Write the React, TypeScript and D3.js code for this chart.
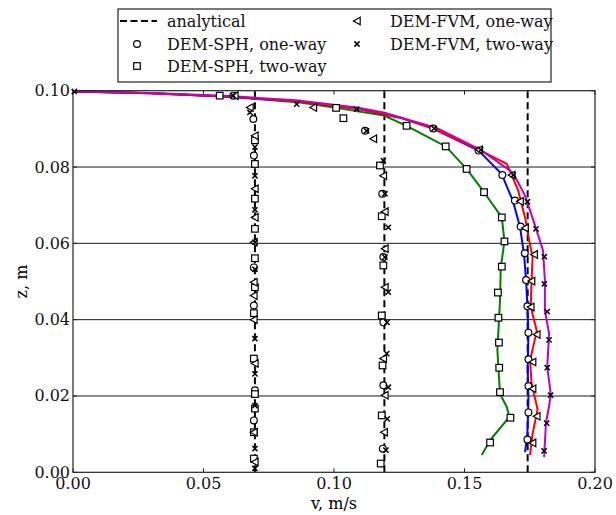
import React, { useEffect, useRef } from "react";
import * as d3 from "d3";

// analytical (plug) velocities, m/s
const analyticalV = [0.0697, 0.1193, 0.1742];

// simulated profiles at the last time level, [v, z]
const sphOneWayLine = [[0, 0.0998], [0.03, 0.0993], [0.06, 0.0984], [0.087, 0.0972], [0.1087, 0.0953], [0.125, 0.093], [0.138, 0.0901], [0.1554, 0.0843], [0.1642, 0.0782], [0.1685, 0.0712], [0.1713, 0.0642], [0.1728, 0.0572], [0.1736, 0.0503], [0.1741, 0.0433], [0.1745, 0.0363], [0.1742, 0.0276], [0.1745, 0.0188], [0.1741, 0.0101], [0.1732, 0.0053]];
const sphTwoWayLine = [[0, 0.0998], [0.03, 0.0993], [0.06, 0.0984], [0.087, 0.0969], [0.1008, 0.0955], [0.1192, 0.0935], [0.1278, 0.0908], [0.1428, 0.0854], [0.1508, 0.0795], [0.1575, 0.0734], [0.1643, 0.0668], [0.1653, 0.0605], [0.1639, 0.0537], [0.1636, 0.045], [0.1626, 0.0319], [0.1636, 0.0206], [0.1662, 0.0171], [0.1672, 0.0145], [0.1598, 0.0084], [0.1566, 0.0045]];
const fvmOneWayLine = [[0, 0.0998], [0.03, 0.0993], [0.06, 0.0984], [0.087, 0.0972], [0.1087, 0.0953], [0.125, 0.093], [0.138, 0.0901], [0.1556, 0.0845], [0.1662, 0.0808], [0.1706, 0.0738], [0.1732, 0.0668], [0.1748, 0.0607], [0.1761, 0.0564], [0.1757, 0.0503], [0.1754, 0.0433], [0.1777, 0.037], [0.1751, 0.0293], [0.1757, 0.0232], [0.178, 0.0165], [0.1761, 0.0102], [0.1751, 0.0045]];
const fvmTwoWayLine = [[0, 0.0999], [0.03, 0.0994], [0.06, 0.0986], [0.087, 0.0974], [0.1087, 0.0956], [0.119, 0.0943], [0.1395, 0.0902], [0.1562, 0.0845], [0.1686, 0.0785], [0.1732, 0.0725], [0.177, 0.0647], [0.1801, 0.0581], [0.1808, 0.0503], [0.1808, 0.0424], [0.1824, 0.0364], [0.1817, 0.0276], [0.1831, 0.0202], [0.1812, 0.0128], [0.1805, 0.004]];

// sampled points (three time levels), [v, z]
const sphOneWayPts = [
  [0.1741, 0.0086], [0.1745, 0.0157], [0.1745, 0.0226], [0.1745, 0.0296], [0.1745, 0.0366], [0.1741, 0.0435], [0.1736, 0.0504], [0.1731, 0.0574], [0.1715, 0.0644], [0.1693, 0.0712], [0.1645, 0.0779], [0.1554, 0.0843], [0.138, 0.0901],
  [0.1187, 0.0062], [0.1189, 0.0228], [0.1189, 0.0393], [0.1189, 0.0564], [0.1185, 0.073], [0.1119, 0.0895],
  [0.0693, 0.0136], [0.0697, 0.0215], [0.0693, 0.0437], [0.0693, 0.0537], [0.0693, 0.083], [0.0691, 0.0926], [0.0614, 0.0987],
];
const sphTwoWayPts = [
  [0.1598, 0.0078], [0.1676, 0.0143], [0.1636, 0.021], [0.1633, 0.0274], [0.1632, 0.034], [0.163, 0.0405], [0.1628, 0.0471], [0.1643, 0.0539], [0.1653, 0.0605], [0.1643, 0.0668], [0.1575, 0.0734], [0.1508, 0.0795], [0.1428, 0.0854], [0.1278, 0.0908], [0.1008, 0.0955],
  [0.1179, 0.0023], [0.1183, 0.0149], [0.1186, 0.028], [0.1183, 0.0411], [0.1189, 0.0542], [0.1183, 0.0671], [0.1176, 0.0804], [0.1036, 0.0928],
  [0.0693, 0.0036], [0.0693, 0.0105], [0.0697, 0.0167], [0.0697, 0.0205], [0.0693, 0.0298], [0.0693, 0.0417], [0.0697, 0.0485], [0.0697, 0.0561], [0.0697, 0.0638], [0.0697, 0.0717], [0.0697, 0.0808], [0.0697, 0.087], [0.0562, 0.0987],
];
const fvmOneWayPts = [
  [0.1761, 0.0077], [0.1777, 0.0147], [0.1761, 0.0219], [0.1761, 0.0289], [0.1777, 0.0361], [0.1754, 0.0433], [0.1757, 0.0501], [0.1767, 0.0571], [0.1732, 0.064], [0.1713, 0.071], [0.1681, 0.0779], [0.1556, 0.0845], [0.0921, 0.0956],
  [0.1192, 0.0105], [0.1195, 0.0202], [0.1189, 0.0298], [0.1195, 0.0485], [0.1195, 0.0586], [0.1195, 0.0683], [0.1189, 0.0777], [0.1151, 0.0874],
  [0.0697, 0.0027], [0.0693, 0.0105], [0.0697, 0.0285], [0.0693, 0.04], [0.0693, 0.0463], [0.0693, 0.0498], [0.0693, 0.0603], [0.0697, 0.0668], [0.0697, 0.0743], [0.0697, 0.0882], [0.0678, 0.0956], [0.062, 0.0987],
];
const fvmTwoWayPts = [
  [0.1805, 0.0056], [0.1815, 0.0129], [0.183, 0.0202], [0.1817, 0.0274], [0.1824, 0.0347], [0.1817, 0.0421], [0.1806, 0.0494], [0.1806, 0.0565], [0.1774, 0.0638], [0.1741, 0.0709], [0.1687, 0.0779], [0.1562, 0.0845], [0.1384, 0.0901], [0.1087, 0.0952], [0.0857, 0.0965],
  [0.1199, 0.0058], [0.1204, 0.014], [0.1208, 0.0223], [0.1202, 0.0311], [0.1203, 0.0393], [0.1208, 0.0472], [0.1195, 0.0564], [0.1208, 0.0642], [0.1195, 0.073], [0.1189, 0.0817], [0.1125, 0.0895],
  [0.0697, 0.001], [0.0697, 0.0062], [0.0697, 0.0175], [0.0697, 0.0258], [0.0697, 0.035], [0.0697, 0.0532], [0.0697, 0.0603], [0.0697, 0.0688], [0.0697, 0.0777], [0.0697, 0.0852], [0.0678, 0.0943], [0.0614, 0.0987], [0.0005, 0.0998],
];

const xTicks = [0, 0.05, 0.1, 0.15, 0.2];
const yTicks = [0, 0.02, 0.04, 0.06, 0.08, 0.1];
const gridZ = [0.02, 0.04, 0.06, 0.08];

const FONT = "'DejaVu Serif', 'Liberation Serif', serif";

function drawMarker(g, kind, x, y) {
  if (kind === "circle") {
    g.append("circle").attr("cx", x).attr("cy", y).attr("r", 3.4)
      .attr("fill", "white").attr("stroke", "black").attr("stroke-width", 1.2);
  } else if (kind === "square") {
    g.append("rect").attr("x", x - 3.3).attr("y", y - 3.3).attr("width", 6.6).attr("height", 6.6)
      .attr("fill", "white").attr("stroke", "black").attr("stroke-width", 1.2);
  } else if (kind === "triangle") {
    g.append("path").attr("d", `M${x - 3.6},${y} L${x + 3.2},${y - 3.8} L${x + 3.2},${y + 3.8} Z`)
      .attr("fill", "white").attr("stroke", "black").attr("stroke-width", 1.2);
  } else {
    g.append("path").attr("d", `M${x - 2.6},${y - 2.6} L${x + 2.6},${y + 2.6} M${x - 2.6},${y + 2.6} L${x + 2.6},${y - 2.6}`)
      .attr("fill", "none").attr("stroke", "black").attr("stroke-width", 1.5);
  }
}

export default function App() {
  const ref = useRef(null);

  useEffect(() => {
    const svg = d3.select(ref.current);
    svg.selectAll("*").remove();

    const left = 73, right = 595, top = 90.7, bottom = 472.3;
    const x = d3.scaleLinear().domain([0, 0.2]).range([left, right]);
    const y = d3.scaleLinear().domain([0, 0.1]).range([bottom, top]);

    svg.append("rect").attr("width", 616).attr("height", 515).attr("fill", "white");

    // horizontal grid
    svg.selectAll(".grid").data(gridZ).join("line")
      .attr("x1", left).attr("x2", right)
      .attr("y1", d => y(d)).attr("y2", d => y(d))
      .attr("stroke", "#1a1a1a").attr("stroke-width", 1);

    // ticks (inward, all sides)
    const tk = svg.append("g").attr("stroke", "#222").attr("stroke-width", 1);
    xTicks.forEach(t => {
      tk.append("line").attr("x1", x(t)).attr("x2", x(t)).attr("y1", bottom).attr("y2", bottom - 4);
      tk.append("line").attr("x1", x(t)).attr("x2", x(t)).attr("y1", top).attr("y2", top + 4);
    });
    yTicks.forEach(t => {
      tk.append("line").attr("x1", left).attr("x2", left + 4).attr("y1", y(t)).attr("y2", y(t));
      tk.append("line").attr("x1", right).attr("x2", right - 4).attr("y1", y(t)).attr("y2", y(t));
    });

    const clip = svg.append("defs").append("clipPath").attr("id", "plotclip");
    clip.append("rect").attr("x", left).attr("y", top - 6).attr("width", right - left).attr("height", bottom - top + 6);

    const plot = svg.append("g").attr("clip-path", "url(#plotclip)");

    // analytical
    plot.selectAll(".ana").data(analyticalV).join("line")
      .attr("x1", d => x(d)).attr("x2", d => x(d))
      .attr("y1", y(0)).attr("y2", y(0.1))
      .attr("stroke", "black").attr("stroke-width", 2).attr("stroke-dasharray", "7,4");

    const line = d3.line().x(d => x(d[0])).y(d => y(d[1])).curve(d3.curveLinear);
    const lines = [
      [sphTwoWayLine, "#008000"],
      [sphOneWayLine, "#0000ff"],
      [fvmOneWayLine, "#ff0000"],
      [fvmTwoWayLine, "#bf00bf"],
    ];
    lines.forEach(([data, color]) => {
      plot.append("path").datum(data).attr("d", line)
        .attr("fill", "none").attr("stroke", color).attr("stroke-width", 2)
        .attr("stroke-linejoin", "round");
    });

    const mk = svg.append("g");
    sphOneWayPts.forEach(d => drawMarker(mk, "circle", x(d[0]), y(d[1])));
    sphTwoWayPts.forEach(d => drawMarker(mk, "square", x(d[0]), y(d[1])));
    fvmOneWayPts.forEach(d => drawMarker(mk, "triangle", x(d[0]), y(d[1])));
    fvmTwoWayPts.forEach(d => drawMarker(mk, "cross", x(d[0]), y(d[1])));

    // frame
    svg.append("rect").attr("x", left).attr("y", top).attr("width", right - left).attr("height", bottom - top)
      .attr("fill", "none").attr("stroke", "#222").attr("stroke-width", 1.2);

    // tick labels
    svg.selectAll(".xl").data(xTicks).join("text")
      .attr("x", d => x(d)).attr("y", 489)
      .attr("text-anchor", "middle").style("font-family", FONT).attr("font-size", 16)
      .attr("fill", "#111").text(d => d3.format(".2f")(d));
    svg.selectAll(".yl").data(yTicks).join("text")
      .attr("x", left - 3).attr("y", d => y(d) + 5.5)
      .attr("text-anchor", "end").style("font-family", FONT).attr("font-size", 16)
      .attr("fill", "#111").text(d => d3.format(".2f")(d));

    // axis labels
    svg.append("text").attr("x", (left + right) / 2).attr("y", 509)
      .attr("text-anchor", "middle").style("font-family", FONT).attr("font-size", 16)
      .text("v, m/s");
    svg.append("text").attr("transform", `translate(27,${(top + bottom) / 2}) rotate(-90)`)
      .attr("text-anchor", "middle").style("font-family", FONT).attr("font-size", 16)
      .text("z, m");

    // legend
    const lg = svg.append("g");
    lg.append("rect").attr("x", 118).attr("y", 9).attr("width", 433).attr("height", 73)
      .attr("fill", "white").attr("stroke", "#222").attr("stroke-width", 1.2);
    const items = [
      { kind: "dash", label: "analytical", cx: 137, tx: 167, cy: 21 },
      { kind: "circle", label: "DEM-SPH, one-way", cx: 137, tx: 167, cy: 44 },
      { kind: "square", label: "DEM-SPH, two-way", cx: 137, tx: 167, cy: 66 },
      { kind: "triangle", label: "DEM-FVM, one-way", cx: 357, tx: 390, cy: 21 },
      { kind: "cross", label: "DEM-FVM, two-way", cx: 357, tx: 390, cy: 44 },
    ];
    items.forEach(it => {
      if (it.kind === "dash") {
        lg.append("line").attr("x1", it.cx - 17).attr("x2", it.cx + 20).attr("y1", it.cy).attr("y2", it.cy)
          .attr("stroke", "black").attr("stroke-width", 2).attr("stroke-dasharray", "7,3.5");
      } else {
        drawMarker(lg, it.kind, it.cx, it.cy);
      }
      lg.append("text").attr("x", it.tx).attr("y", it.cy + 5.5)
        .style("font-family", FONT).attr("font-size", 16).attr("fill", "#111").text(it.label);
    });
  }, []);

  return (
    <svg ref={ref} width={616} height={515}
      style={{ position: "absolute", left: 0, top: 0, display: "block" }} />
  );
}
